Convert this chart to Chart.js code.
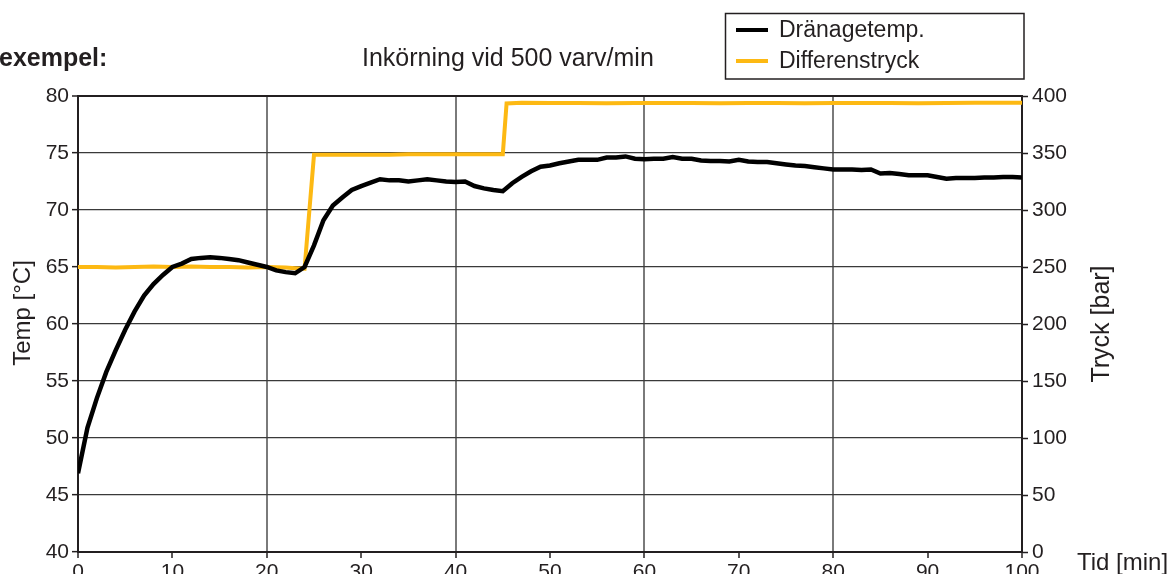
<!DOCTYPE html>
<html>
<head>
<meta charset="utf-8">
<script src="https://cdn.jsdelivr.net/npm/chart.js@4.4.1/dist/chart.umd.min.js"></script>
<style>
html,body{margin:0;padding:0;background:#fff;overflow:hidden;width:1171px;height:574px;}
canvas{display:block;}
</style>
</head>
<body>
<canvas id="c" width="1171" height="600"></canvas>
<script>
// ---- data ----
const timeMin = [];
for (let i = 0; i <= 100; i++) timeMin.push(i);
const drainTemp = [
  46.9, 50.9, 53.5, 55.8, 57.7, 59.5, 61.1, 62.5, 63.5, 64.3,
  65.0, 65.3, 65.7, 65.8, 65.85, 65.8, 65.7, 65.6, 65.4, 65.2,
  65.0, 64.7, 64.55, 64.45, 65.0, 66.9, 69.1, 70.4, 71.1, 71.75,
  72.1, 72.4, 72.7, 72.6, 72.6, 72.5, 72.6, 72.7, 72.6, 72.5,
  72.45, 72.5, 72.1, 71.9, 71.75, 71.65, 72.35, 72.9, 73.4, 73.8,
  73.9, 74.1, 74.25, 74.4, 74.4, 74.4, 74.6, 74.6, 74.7, 74.5,
  74.45, 74.5, 74.5, 74.65, 74.5, 74.5, 74.35, 74.3, 74.3, 74.25,
  74.4, 74.25, 74.2, 74.2, 74.1, 74.0, 73.9, 73.85, 73.75, 73.65,
  73.55, 73.55, 73.55, 73.5, 73.55, 73.2, 73.25, 73.15, 73.05, 73.05,
  73.05, 72.9, 72.75, 72.8, 72.8, 72.8, 72.85, 72.85, 72.9, 72.9,
  72.85
];
const pressTime = [
  0, 2, 4, 6, 8, 10, 12, 14, 16, 18, 20, 22, 23, 24,
  25, 27, 29, 31, 33, 35, 37, 39, 41, 43, 45,
  45.4, 47, 50, 53, 56, 59, 62, 65, 68, 71, 74, 77, 80, 83, 86, 89, 92, 95, 98, 100
];
const diffPress = [
  250, 250, 249.5, 250, 250.5, 250, 250.5, 250, 250, 249.5, 250, 249.5, 249, 248.5,
  348.5, 348.5, 348.5, 348.5, 348.5, 348.8, 348.8, 348.8, 349, 349, 349,
  393.5, 394, 393.8, 393.8, 393.6, 393.8, 393.8, 393.8, 393.6, 393.8, 393.8, 393.6, 393.8, 393.8, 393.8, 393.6, 393.8, 394, 394, 394
];
const tempTicks = [40, 45, 50, 55, 60, 65, 70, 75, 80];
const pressTicks = [0, 50, 100, 150, 200, 250, 300, 350, 400];
const timeTicks = [0, 10, 20, 30, 40, 50, 60, 70, 80, 90, 100];
const seriesNames = ['Dränagetemp.', 'Differenstryck'];
const texts = {
  left: 'exempel:',
  title: 'Inkörning vid 500 varv/min',
  yLeft: 'Temp [°C]',
  yRight: 'Tryck [bar]',
  x: 'Tid [min]'
};

const FONT = '"Liberation Sans", Arial, Helvetica, sans-serif';
const TXT = '#231f20';
const BLACK = '#000000';
const ORANGE = '#FDB913';

const extraText = {
  id: 'extraText',
  afterDraw(chart) {
    const ctx = chart.ctx;
    ctx.save();
    ctx.fillStyle = TXT;
    ctx.textBaseline = 'alphabetic';
    // top texts
    ctx.font = 'bold 25px ' + FONT;
    ctx.textAlign = 'left';
    ctx.fillText(texts.left, -1, 66);
    ctx.font = '25px ' + FONT;
    ctx.fillText(texts.title, 362, 66);
    // x axis title
    ctx.font = '24px ' + FONT;
    ctx.fillText(texts.x, 1077, 570);
    // rotated y titles
    ctx.textAlign = 'center';
    ctx.textBaseline = 'middle';
    ctx.font = '24px ' + FONT;
    ctx.save();
    ctx.translate(23, 313);
    ctx.rotate(-Math.PI / 2);
    ctx.fillText(texts.yLeft, 0, 0);
    ctx.restore();
    ctx.font = '25px ' + FONT;
    ctx.save();
    ctx.translate(1102, 324);
    ctx.rotate(-Math.PI / 2);
    ctx.fillText(texts.yRight, 0, 0);
    ctx.restore();
    // legend box
    ctx.strokeStyle = '#231f20';
    ctx.lineWidth = 1.5;
    ctx.strokeRect(725.5, 13.5, 298.5, 65.5);
    ctx.font = '23px ' + FONT;
    ctx.textAlign = 'left';
    ctx.textBaseline = 'middle';
    const ys = [30, 61];
    chart.data.datasets.forEach((ds, i) => {
      ctx.strokeStyle = ds.borderColor;
      ctx.lineWidth = 4;
      ctx.beginPath();
      ctx.moveTo(736, ys[i]);
      ctx.lineTo(768, ys[i]);
      ctx.stroke();
      ctx.fillStyle = TXT;
      ctx.fillText(ds.label, 779, ys[i] + 1);
    });
    ctx.restore();
  }
};

new Chart(document.getElementById('c'), {
  type: 'line',
  data: {
    datasets: [
      {
        label: seriesNames[0],
        data: timeMin.map((t, i) => ({ x: t, y: drainTemp[i] })),
        borderColor: BLACK,
        borderWidth: 4.5,
        pointRadius: 0,
        tension: 0,
        yAxisID: 'y'
      },
      {
        label: seriesNames[1],
        data: pressTime.map((t, i) => ({ x: t, y: diffPress[i] })),
        borderColor: ORANGE,
        borderWidth: 4,
        pointRadius: 0,
        tension: 0,
        yAxisID: 'y1'
      }
    ]
  },
  options: {
    responsive: false,
    animation: false,
    devicePixelRatio: 1,
    layout: { padding: { top: 96, left: 0, right: 0, bottom: 0 } },
    plugins: { legend: { display: false }, tooltip: { enabled: false } },
    scales: {
      x: {
        type: 'linear',
        min: 0, max: 100,
        afterBuildTicks: s => { s.ticks = timeTicks.map(v => ({ value: v })); },
        afterFit: s => { s.height = 48; },
        ticks: { font: { family: FONT, size: 21 }, color: TXT, padding: 2, maxRotation: 0 },
        grid: {
          color: c => (c.tick && c.tick.value % 20 === 0 && c.tick.value !== 0 && c.tick.value !== 100) ? '#7a7a7a' : 'rgba(0,0,0,0)',
          lineWidth: 2,
          tickColor: '#231f20',
          tickLength: 6,
          tickWidth: 1.5
        },
        border: { display: true, color: '#231f20', width: 2 }
      },
      y: {
        position: 'left',
        min: 40, max: 80,
        afterBuildTicks: s => { s.ticks = tempTicks.map(v => ({ value: v })); },
        afterFit: s => { s.width = 78; },
        ticks: { font: { family: FONT, size: 21 }, color: TXT, padding: 3 },
        grid: {
          color: c => (c.tick && c.tick.value === 80) ? '#231f20' : '#3a3a3a',
          lineWidth: c => (c.tick && c.tick.value === 80) ? 2 : 1.3,
          tickColor: '#231f20',
          tickLength: 6,
          tickWidth: 1.5
        },
        border: { display: true, color: '#231f20', width: 2 }
      },
      y1: {
        position: 'right',
        min: 0, max: 400,
        afterBuildTicks: s => { s.ticks = pressTicks.map(v => ({ value: v })); },
        afterFit: s => { s.width = 149; },
        ticks: { font: { family: FONT, size: 21 }, color: TXT, padding: 4 },
        grid: {
          drawOnChartArea: false,
          color: '#231f20',
          tickColor: '#231f20',
          tickLength: 6,
          tickWidth: 1.5
        },
        border: { display: true, color: '#231f20', width: 2 }
      }
    }
  },
  plugins: [extraText]
});
</script>
</body>
</html>
